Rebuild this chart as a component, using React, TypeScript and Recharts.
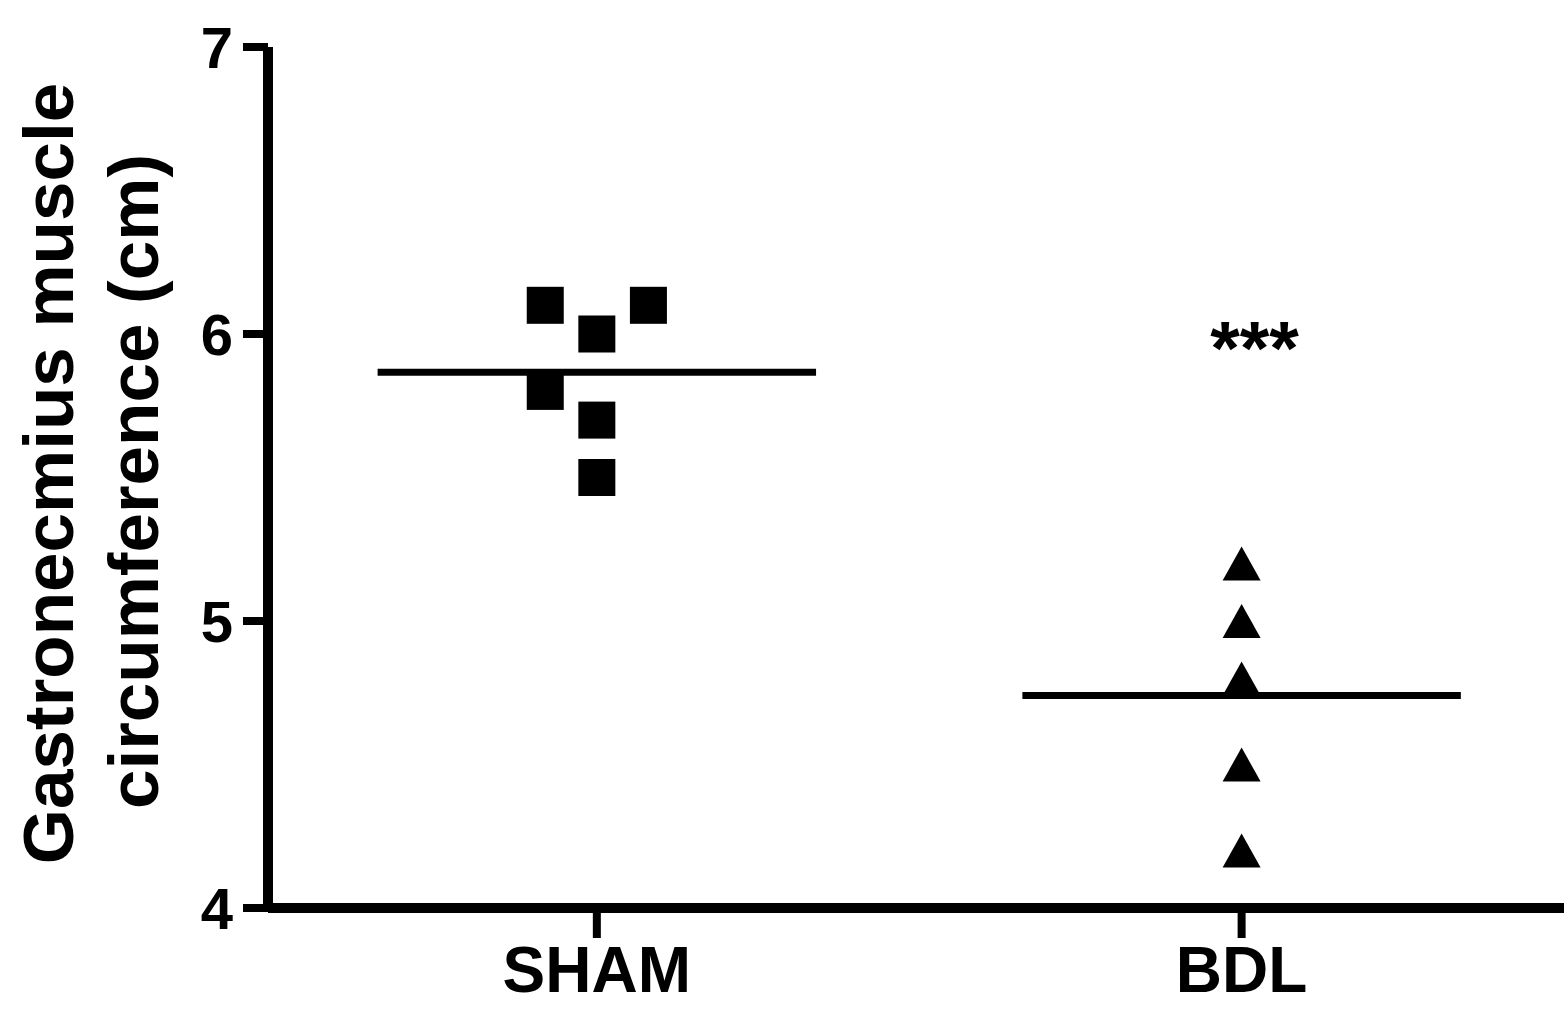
import { ScatterChart, Scatter, XAxis, YAxis, ReferenceLine, ReferenceDot } from 'recharts';

const groups = ['SHAM', 'BDL'];

// x = group position (1 = SHAM, 2 = BDL) with the small horizontal spread of the dots
const shamX = [0.92, 1.0, 1.08, 0.92, 1.0, 1.0];
const shamY = [6.1, 6.0, 6.1, 5.8, 5.7, 5.5];
const bdlX = [2, 2, 2, 2, 2];
const bdlY = [5.2, 5.0, 4.8, 4.5, 4.2];

const yTicks = [4, 5, 6, 7];
const significance = '***';

const FONT = '"Liberation Sans", Arial, Helvetica, sans-serif';

const shamData = shamX.map((x, i) => ({ x, y: shamY[i] }));
const bdlData = bdlX.map((x, i) => ({ x, y: bdlY[i] }));

const mean = (arr: number[]) => arr.reduce((a, b) => a + b, 0) / arr.length;
const shamMean = mean(shamY);
const bdlMean = mean(bdlY);

const SquareShape = (props: any) => {
  const { cx, cy } = props;
  const s = 37;
  return <rect x={cx - s / 2} y={cy - s / 2} width={s} height={s} fill="#000" />;
};

const TriangleShape = (props: any) => {
  const { cx, cy } = props;
  const w = 38;
  const h = 34;
  return (
    <polygon
      points={`${cx},${cy - h / 2} ${cx - w / 2},${cy + h / 2} ${cx + w / 2},${cy + h / 2}`}
      fill="#000"
    />
  );
};

const YTitle = (props: any) => {
  const vb = props.viewBox || { x: 0, y: 47, width: 268, height: 861 };
  const cy = vb.y + vb.height / 2;
  const style = { fontFamily: FONT, fontWeight: 700, fontSize: 71, fill: '#000' };
  return (
    <g>
      <text x={73} y={cy - 4} textAnchor="middle" transform={`rotate(-90, 73, ${cy - 4})`} style={style}>
        Gastronecmius muscle
      </text>
      <text x={158} y={cy + 4} textAnchor="middle" transform={`rotate(-90, 158, ${cy + 4})`} style={style}>
        circumference (cm)
      </text>
    </g>
  );
};

export default function App() {
  return (
    <div style={{ position: 'absolute', left: 0, top: 0, width: 1564, height: 1013, background: '#fff' }}>
      <ScatterChart width={1564} height={1013} margin={{ top: 47, right: 0, bottom: 0, left: 0 }}>
        <XAxis
          type="number"
          dataKey="x"
          domain={[0.49, 2.5]}
          ticks={[1, 2]}
          tickFormatter={(v: number) => groups[v - 1]}
          height={105}
          axisLine={{ stroke: '#000', strokeWidth: 10 }}
          tickLine={{ stroke: '#000', strokeWidth: 8 }}
          tickSize={30}
          tickMargin={9}
          tick={{ fill: '#000', fontSize: 64, fontWeight: 700, fontFamily: FONT }}
          allowDataOverflow
        />
        <YAxis
          type="number"
          dataKey="y"
          domain={[4, 7]}
          ticks={yTicks}
          width={268}
          axisLine={{ stroke: '#000', strokeWidth: 10 }}
          tickLine={{ stroke: '#000', strokeWidth: 8 }}
          tickSize={25}
          tickMargin={10}
          tick={{ fill: '#000', fontSize: 58, fontWeight: 700, fontFamily: FONT }}
          label={YTitle}
        />
        <ReferenceLine
          segment={[{ x: 0.66, y: shamMean }, { x: 1.34, y: shamMean }]}
          stroke="#000"
          strokeWidth={7}
        />
        <ReferenceLine
          segment={[{ x: 1.66, y: bdlMean }, { x: 2.34, y: bdlMean }]}
          stroke="#000"
          strokeWidth={7}
        />
        <Scatter data={shamData} shape={SquareShape} isAnimationActive={false} />
        <Scatter data={bdlData} shape={TriangleShape} isAnimationActive={false} />
        <ReferenceDot
          x={2.02}
          y={6}
          r={0}
          fill="none"
          stroke="none"
          label={{
            value: significance,
            position: 'center',
            fill: '#000',
            fontSize: 76,
            fontWeight: 700,
            fontFamily: FONT,
            dy: 13,
          }}
        />
      </ScatterChart>
    </div>
  );
}
